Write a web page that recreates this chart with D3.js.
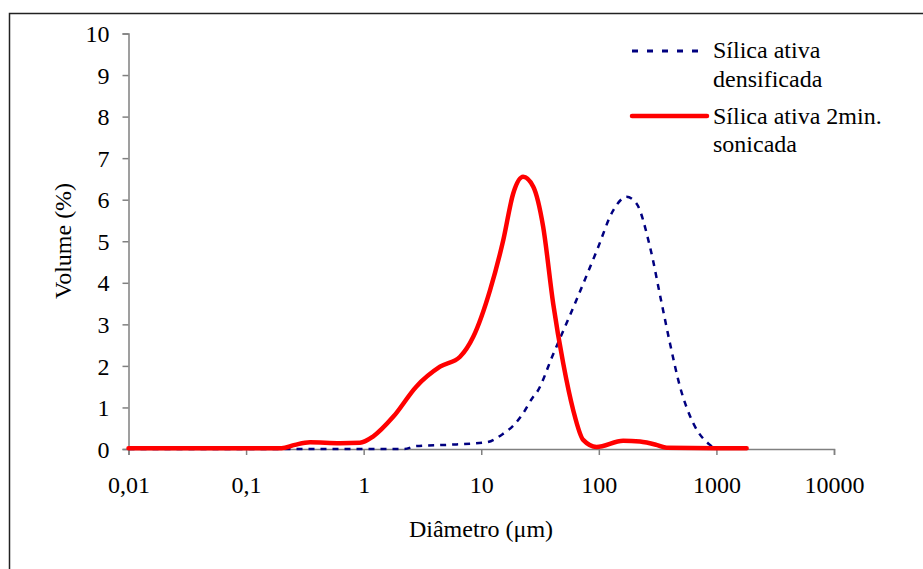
<!DOCTYPE html>
<html lang="pt">
<head>
<meta charset="UTF-8">
<title>Distribuição granulométrica</title>
<script src="https://cdn.jsdelivr.net/npm/d3@7"></script>
<style>
  body { margin: 0; background: #fff; }
  text { font-family: "Liberation Serif", "Times New Roman", serif; fill: #000; }
</style>
</head>
<body>
<script>
// diameters (µm) and volume (%)
const densDiam = [0.01, 0.1, 1, 2.2, 2.8, 5.1, 11, 15.4, 18.7, 22.7, 27.7, 29.6, 40.9, 60.5, 95.7, 133, 172, 209, 272, 342, 403, 490, 636, 881, 1000]
const densVol  = [0, 0, 0, 0, 0.07, 0.1, 0.16, 0.37, 0.56, 0.86, 1.26, 1.36, 2.28, 3.4, 4.76, 5.75, 6.07, 5.91, 4.87, 3.51, 2.54, 1.5, 0.62, 0.1, 0]

const sonDiam = [0.01, 0.1, 0.2, 0.26, 0.35, 0.63, 0.93, 1.2, 1.79, 2.8, 4.46, 6.6, 8.55, 11.9, 15.4, 18.7, 22.7, 27.7, 33.6, 40.9, 49.8, 60.5, 73.6, 95.6, 161, 224, 309, 378, 1000, 1807]
const sonVol  = [0.02, 0.02, 0.02, 0.1, 0.16, 0.14, 0.15, 0.3, 0.78, 1.5, 1.98, 2.22, 2.7, 3.83, 5.03, 6.15, 6.55, 6.31, 5.35, 3.5, 2.06, 0.94, 0.22, 0.05, 0.2, 0.18, 0.1, 0.03, 0.02, 0.02]

const xTicks = [0.01, 0.1, 1, 10, 100, 1000, 10000]
const xTickLabels = ["0,01", "0,1", "1", "10", "100", "1000", "10000"]
const yTicks = d3.range(0, 11)

const w = 923, h = 569
const fs = "24px"

const svg = d3.select("body").append("svg")
    .attr("width", w)
    .attr("height", h)

// outer frame
svg.append("rect")
    .attr("x", 9.5).attr("y", 13.5)
    .attr("width", 930).attr("height", 600)
    .attr("fill", "none")
    .attr("stroke", "#222")
    .attr("stroke-width", 1.5)

const xScale = d3.scaleLog().domain([0.01, 10000]).range([128.5, 834])
const yScale = d3.scaleLinear().domain([0, 10]).range([449, 33.5])

//axes
const xAxis = d3.axisBottom(xScale)
    .tickValues(xTicks)
    .tickFormat((d, i) => xTickLabels[i])
    .tickSize(6)
    .tickPadding(21)
const gx = svg.append("g")
    .attr("transform", `translate(0, ${yScale(0)})`)
    .call(xAxis)

const yAxis = d3.axisLeft(yScale)
    .tickValues(yTicks)
    .tickSize(6)
    .tickPadding(13)
const gy = svg.append("g")
    .attr("transform", `translate(${xScale(0.01)}, 0)`)
    .call(yAxis)

;[gx, gy].forEach(g => {
    g.select(".domain").attr("stroke", "#808080").attr("stroke-width", 1.5)
    g.selectAll(".tick line").attr("stroke", "#808080").attr("stroke-width", 1.5)
    g.selectAll(".tick text")
        .style("font-family", '"Liberation Serif", "Times New Roman", serif')
        .style("font-size", fs)
        .attr("fill", "#000")
})
gy.selectAll(".tick text").attr("dy", "0.34em")

//lines
const line = d3.line()
    .x(d => xScale(d[0]))
    .y(d => yScale(d[1]))
    .curve(d3.curveMonotoneX)

svg.append("path")
    .datum(densDiam.map((d, i) => [d, densVol[i]]))
    .attr("d", line)
    .attr("fill", "none")
    .attr("stroke", "#000080")
    .attr("stroke-width", 2.5)
    .attr("stroke-dasharray", "6,6")

svg.append("path")
    .datum(sonDiam.map((d, i) => [d, sonVol[i]]))
    .attr("d", line)
    .attr("fill", "none")
    .attr("stroke", "#ff0000")
    .attr("stroke-width", 4.5)
    .attr("stroke-linejoin", "round")
    .attr("stroke-linecap", "round")

//legend
const legend = svg.append("g")
legend.append("line")
    .attr("x1", 632).attr("x2", 699).attr("y1", 51).attr("y2", 51)
    .attr("stroke", "#000080").attr("stroke-width", 3)
    .attr("stroke-dasharray", "6,9")
legend.append("text").attr("x", 713).attr("y", 58).style("font-size", fs).text("Sílica ativa")
legend.append("text").attr("x", 713).attr("y", 87).style("font-size", fs).text("densificada")

legend.append("line")
    .attr("x1", 632).attr("x2", 707).attr("y1", 116).attr("y2", 116)
    .attr("stroke", "#ff0000").attr("stroke-width", 4.5)
    .attr("stroke-linecap", "round")
legend.append("text").attr("x", 713).attr("y", 124).style("font-size", fs).text("Sílica ativa 2min.")
legend.append("text").attr("x", 713).attr("y", 152).style("font-size", fs).text("sonicada")

// axis titles
svg.append("text")
    .attr("x", 481).attr("y", 537)
    .attr("text-anchor", "middle")
    .style("font-size", fs)
    .text("Diâmetro (μm)")

svg.append("text")
    .attr("transform", "translate(71, 241) rotate(-90)")
    .attr("text-anchor", "middle")
    .style("font-size", fs)
    .text("Volume (%)")
</script>
</body>
</html>
